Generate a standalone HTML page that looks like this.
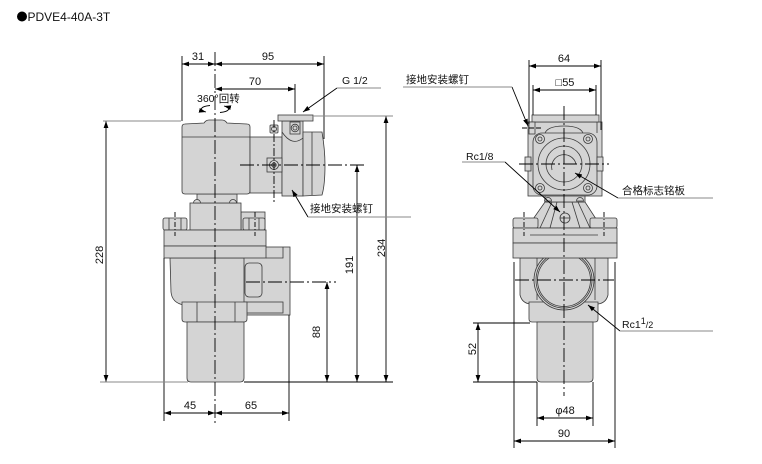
<!DOCTYPE html>
<html><head><meta charset="utf-8"><style>
html,body{margin:0;padding:0;background:#fff;}
svg{display:block;}
text{font-family:"Liberation Sans","Noto Sans CJK SC",sans-serif;fill:#111;}
</style></head><body>
<svg width="762" height="464" viewBox="0 0 762 464" xmlns="http://www.w3.org/2000/svg">
<defs>
<marker id="a" markerUnits="userSpaceOnUse" markerWidth="8" markerHeight="6" refX="7" refY="3" orient="auto-start-reverse"><path d="M0,0.6 L7,3 L0,5.4 Z" fill="#000"/></marker>
</defs>
<rect width="762" height="464" fill="#fff"/>

<!-- title -->
<circle cx="22" cy="16.5" r="5" fill="#000"/>
<text x="27.5" y="21" font-size="12">PDVE4-40A-3T</text>

<!-- ================= LEFT VIEW ================= -->
<g fill="#d4d4d4" stroke="#3a3a3a" stroke-width="0.8">
  <!-- side boss -->
  <rect x="243" y="247" width="47" height="68"/>
  <rect x="245" y="302" width="38" height="11" fill="none"/>
  <path d="M283,247 L283,258 L266,258" fill="none"/>
  <!-- body -->
  <path d="M170,258 L244,258 L244,305 L184,305 Q172,303 171,292 Z"/>
  <rect x="245" y="263" width="17" height="34" rx="4"/>
  <!-- ring -->
  <path d="M182,302 L247,302 L247,319 Q247,322 244,322 L185,322 Q182,322 182,319 Z"/>
  <line x1="197" y1="302" x2="197" y2="322"/>
  <line x1="235" y1="302" x2="235" y2="322"/>
  <!-- pipe -->
  <path d="M187,322 L244,322 L244,378 Q244,382 240,382 L191,382 Q187,382 187,378 Z"/>
  <!-- cover -->
  <rect x="241" y="212" width="24" height="18"/>
  <rect x="190" y="203" width="51" height="27"/>
  <rect x="197" y="194" width="40" height="9"/>
  <path d="M193.5,203 A3.5,3.5 0 0 1 200.5,203 Z"/>
  <path d="M229.5,203 A3.5,3.5 0 0 1 236.5,203 Z"/>
  <!-- bolts -->
  <rect x="163" y="218" width="24" height="12" rx="2"/>
  <line x1="169" y1="218" x2="169" y2="230"/><line x1="181" y1="218" x2="181" y2="230"/>
  <rect x="243" y="218" width="22" height="12" rx="2"/>
  <line x1="249" y1="218" x2="249" y2="230"/><line x1="259" y1="218" x2="259" y2="230"/>
  <!-- flange -->
  <rect x="164" y="230" width="102" height="16"/>
  <rect x="164" y="246" width="102" height="12"/>
  <!-- actuator -->
  <path d="M182,127 Q182,124 185,124 L204,123 Q206,120 209,120 L222,120 Q225,120 227,123 L247,124 Q250,124 250,127 L250,191 Q250,194 247,194 L185,194 Q182,194 182,191 Z"/>
  <line x1="182" y1="137" x2="250" y2="137"/>
  <rect x="250" y="137" width="32" height="56"/>
  <rect x="282" y="121" width="21" height="75"/>
  <path d="M282,132 Q292,147 303,138" fill="none"/>
  <rect x="278" y="115" width="35" height="6"/>
  <path d="M303,132 L322,132 Q325,150 325,165 Q325,185 322,195 L303,196 Z"/>
  <line x1="312" y1="132" x2="312" y2="195"/>
  <!-- screws -->
  <rect x="270" y="125" width="8" height="8" rx="1"/>
  <circle cx="274" cy="129" r="2.5"/>
  <rect x="267" y="158" width="15" height="14"/>
  <circle cx="274" cy="165" r="4.5"/>
  <circle cx="274" cy="165" r="2.2"/>
  <rect x="290" y="122" width="10" height="12"/>
  <circle cx="295" cy="128" r="3.8"/>
  <circle cx="295" cy="128" r="2"/>
</g>

<!-- center lines left -->
<g stroke="#000" stroke-width="0.9" fill="none">
  <line x1="215" y1="52" x2="215" y2="424" stroke-dasharray="14 3 2 3"/>
  <line x1="274" y1="120" x2="274" y2="202" stroke-dasharray="8 2 2 2"/>
  <line x1="240" y1="165" x2="364" y2="165" stroke-dasharray="14 3 2 3"/>
  <line x1="246" y1="282" x2="336" y2="282" stroke-dasharray="14 3 2 3"/>
  <line x1="175" y1="212" x2="175" y2="236" stroke-dasharray="5 2 1 2"/>
  <line x1="255" y1="212" x2="255" y2="236" stroke-dasharray="5 2 1 2"/>
</g>

<!-- left dimension/ext lines -->
<g stroke="#000" stroke-width="0.9" fill="none">
  <line x1="182" y1="56" x2="182" y2="121"/>
  <line x1="324" y1="56" x2="324" y2="139"/>
  <line x1="295" y1="84" x2="295" y2="113"/>
  <line x1="164" y1="258" x2="164" y2="421"/>
  <line x1="289" y1="315" x2="289" y2="421"/>
  <line x1="244" y1="382" x2="393" y2="382"/>
  <line x1="182" y1="64" x2="215" y2="64" marker-start="url(#a)" marker-end="url(#a)"/>
  <line x1="215" y1="64" x2="324" y2="64" marker-start="url(#a)" marker-end="url(#a)"/>
  <line x1="215" y1="89" x2="295" y2="89" marker-start="url(#a)" marker-end="url(#a)"/>
  <line x1="106" y1="121" x2="106" y2="382" marker-start="url(#a)" marker-end="url(#a)"/>
  <line x1="386" y1="116" x2="386" y2="382" marker-start="url(#a)" marker-end="url(#a)"/>
  <line x1="357" y1="165" x2="357" y2="382" marker-start="url(#a)" marker-end="url(#a)"/>
  <line x1="327" y1="282" x2="327" y2="382" marker-start="url(#a)" marker-end="url(#a)"/>
  <line x1="164" y1="413" x2="215" y2="413" marker-start="url(#a)" marker-end="url(#a)"/>
  <line x1="215" y1="413" x2="289" y2="413" marker-start="url(#a)" marker-end="url(#a)"/>
  <!-- leaders -->
  <line x1="337" y1="88" x2="303" y2="112" marker-end="url(#a)"/>
  <line x1="308" y1="217" x2="292" y2="190" marker-end="url(#a)"/>
</g>
<g stroke="#888" stroke-width="0.9">
  <line x1="103" y1="121" x2="181" y2="121"/>
  <line x1="100" y1="382" x2="188" y2="382"/>
  <line x1="313" y1="116" x2="393" y2="116"/>
  <line x1="337" y1="88" x2="381" y2="88"/>
  <line x1="308" y1="217" x2="411" y2="217"/>
</g>
<!-- rotation arrow -->
<g stroke="#000" stroke-width="0.9" fill="none">
  <path d="M210,105.5 A13,3.8 0 0 0 206,112" marker-end="url(#a)"/>
  <path d="M220,112.5 A13,3.8 0 0 0 224,106" marker-end="url(#a)"/>
</g>

<!-- left labels -->
<g font-size="11" text-anchor="middle">
  <text x="198" y="60">31</text>
  <text x="268" y="60">95</text>
  <text x="255" y="85">70</text>
  <text x="190" y="409">45</text>
  <text x="251" y="409">65</text>
  <text transform="translate(103,255) rotate(-90)">228</text>
  <text transform="translate(385,248) rotate(-90)">234</text>
  <text transform="translate(353,265) rotate(-90)">191</text>
  <text transform="translate(320,332) rotate(-90)">88</text>
</g>
<text x="197" y="102" font-size="10.5">360°回转</text>
<text x="342" y="84" font-size="10.5">G 1/2</text>
<text x="310" y="212" font-size="10.5">接地安装螺钉</text>

<!-- ================= RIGHT VIEW ================= -->
<g fill="#d4d4d4" stroke="#3a3a3a" stroke-width="0.8">
  <!-- body -->
  <path d="M520,258 L608,258 L608,295 Q606,303 598,304 L530,304 Q522,303 520,295 Z"/>
  <line x1="537" y1="258" x2="537" y2="300"/>
  <line x1="595" y1="258" x2="595" y2="300"/>
  <path d="M529,302 L598,302 L598,319 Q598,322 595,322 L532,322 Q529,322 529,319 Z"/>
  <path d="M537,322 L593,322 L593,378 Q593,382 589,382 L541,382 Q537,382 537,378 Z"/>
  <circle cx="564" cy="280" r="30"/>
  <circle cx="564" cy="280" r="28" fill="none"/>
  <circle cx="564" cy="280" r="26.5" fill="none"/>
  <!-- tripod -->
  <path d="M545,202 L585,202 L598,222 L598,228 L531,228 L531,222 Z"/>
  <line x1="552" y1="202" x2="540" y2="228"/>
  <line x1="578" y1="202" x2="590" y2="228"/>
  <line x1="557" y1="202" x2="550" y2="228"/>
  <line x1="572" y1="202" x2="580" y2="228"/>
  <circle cx="565" cy="218" r="5"/>
  <line x1="560" y1="218" x2="570" y2="218"/>
  <rect x="545" y="195" width="40" height="7"/>
  <path d="M544.5,201 A3.5,3.5 0 0 1 551.5,201 Z"/>
  <path d="M576.5,201 A3.5,3.5 0 0 1 583.5,201 Z"/>
  <!-- flange -->
  <rect x="513" y="218" width="25" height="10" rx="2"/>
  <rect x="590" y="218" width="27" height="10" rx="2"/>
  <rect x="513" y="228" width="104" height="15"/>
  <rect x="513" y="243" width="104" height="15"/>
  <line x1="530" y1="235" x2="598" y2="235"/>
  <!-- actuator -->
  <rect x="528" y="122" width="74" height="74"/>
  <rect x="532" y="115" width="67" height="7"/>
  <line x1="533" y1="122" x2="533" y2="133"/>
  <line x1="597" y1="122" x2="597" y2="133"/>
  <path d="M545,133 Q548,126 564,126 Q580,126 583,133" fill="none"/>
  <rect x="533" y="133" width="64" height="62" rx="9"/>
  <circle cx="540" cy="139" r="4.5"/><circle cx="540" cy="139" r="2"/>
  <circle cx="588" cy="139" r="4.5"/><circle cx="588" cy="139" r="2"/>
  <circle cx="540" cy="188" r="4.5"/><circle cx="540" cy="188" r="2"/>
  <circle cx="588" cy="188" r="4.5"/><circle cx="588" cy="188" r="2"/>
  <circle cx="564" cy="164" r="26"/>
  <circle cx="564" cy="164" r="18" fill="none"/>
  <path d="M552,170 A12,12 0 1 1 576,164" fill="none"/>
  <rect x="525" y="157" width="6" height="14"/>
  <rect x="597" y="157" width="6" height="14"/>
  <rect x="529" y="122" width="6" height="12"/>
</g>

<g stroke="#000" stroke-width="0.9" fill="none">
  <line x1="564" y1="106" x2="564" y2="396" stroke-dasharray="14 3 2 3"/>
  <line x1="515" y1="280" x2="614" y2="280" stroke-dasharray="14 3 2 3"/>
  <line x1="519" y1="164" x2="609" y2="164" stroke-dasharray="14 3 2 3"/>
  <line x1="522" y1="128" x2="541" y2="128" stroke-dasharray="5 2"/>
  <line x1="524" y1="212" x2="524" y2="236" stroke-dasharray="5 2 1 2"/>
  <line x1="604" y1="212" x2="604" y2="236" stroke-dasharray="5 2 1 2"/>
  <!-- ext -->
  <line x1="529" y1="60" x2="529" y2="124"/>
  <line x1="601" y1="60" x2="601" y2="130"/>
  <line x1="533" y1="85" x2="533" y2="115"/>
  <line x1="596" y1="85" x2="596" y2="115"/>
  <line x1="514" y1="262" x2="514" y2="448"/>
  <line x1="615" y1="262" x2="615" y2="448"/>
  <line x1="537" y1="382" x2="537" y2="426"/>
  <line x1="593" y1="382" x2="593" y2="426"/>
  <line x1="473" y1="323" x2="530" y2="323"/>
  <line x1="473" y1="382" x2="537" y2="382"/>
  <!-- dims -->
  <line x1="529" y1="66" x2="601" y2="66" marker-start="url(#a)" marker-end="url(#a)"/>
  <line x1="533" y1="90" x2="596" y2="90" marker-start="url(#a)" marker-end="url(#a)"/>
  <line x1="537" y1="418" x2="593" y2="418" marker-start="url(#a)" marker-end="url(#a)"/>
  <line x1="514" y1="441" x2="615" y2="441" marker-start="url(#a)" marker-end="url(#a)"/>
  <line x1="478" y1="323" x2="478" y2="382" marker-start="url(#a)" marker-end="url(#a)"/>
  <!-- leaders -->
  <line x1="512" y1="87" x2="528" y2="126" marker-end="url(#a)"/>
  <line x1="505" y1="162" x2="560" y2="212" marker-end="url(#a)"/>
  <line x1="618" y1="198" x2="575" y2="173" marker-end="url(#a)"/>
  <line x1="620" y1="331" x2="588" y2="305" marker-end="url(#a)"/>
</g>
<g stroke="#888" stroke-width="0.9">
  <line x1="403" y1="87" x2="512" y2="87"/>
  <line x1="462" y1="162" x2="505" y2="162"/>
  <line x1="618" y1="198" x2="713" y2="198"/>
  <line x1="620" y1="331" x2="713" y2="331"/>
</g>

<g font-size="11" text-anchor="middle">
  <text x="564" y="62">64</text>
  <text x="565" y="86">□55</text>
  <text x="565" y="414">φ48</text>
  <text x="564" y="437">90</text>
  <text transform="translate(476,349) rotate(-90)">52</text>
</g>
<text x="406" y="83" font-size="10.5">接地安装螺钉</text>
<text x="466" y="160" font-size="10.5">Rc1/8</text>
<text x="622" y="194" font-size="10.5">合格标志铭板</text>
<text x="622" y="328" font-size="10.5">Rc1<tspan font-size="9" dy="-4">1</tspan><tspan font-size="9" dy="4">/2</tspan></text>
</svg>
</body></html>
